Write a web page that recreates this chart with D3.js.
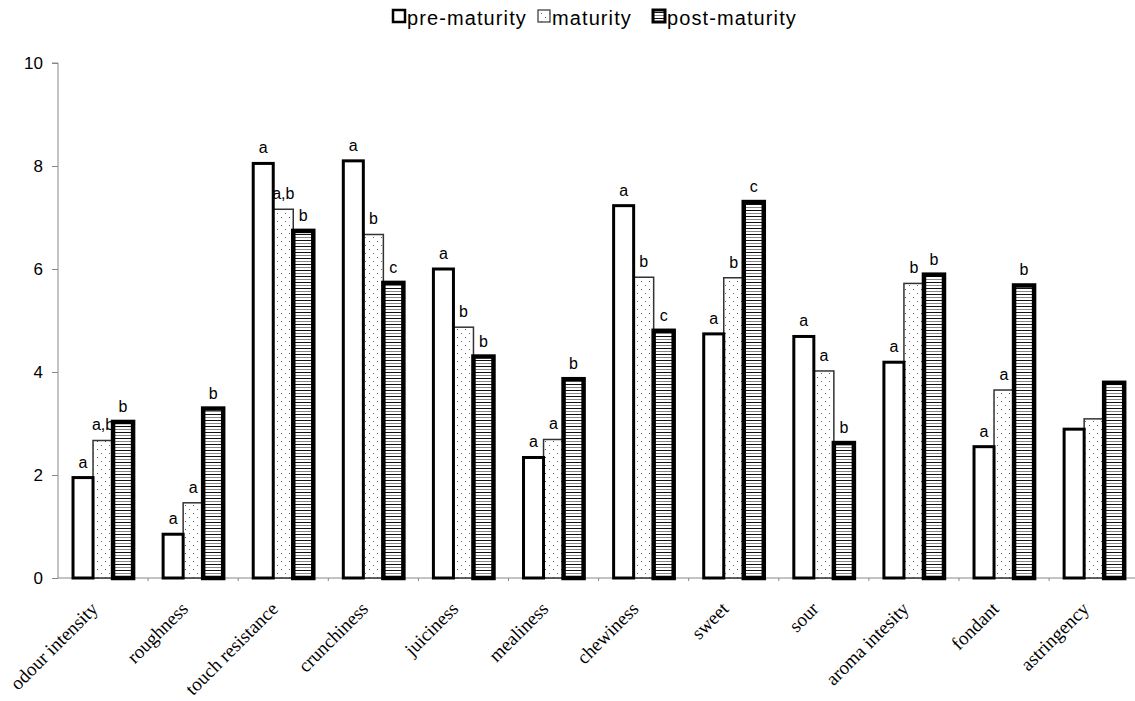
<!DOCTYPE html>
<html><head><meta charset="utf-8">
<script src="https://cdn.jsdelivr.net/npm/d3@7"></script>
<style>
html,body{margin:0;padding:0;background:#fff;}
svg{display:block;}
</style></head>
<body>
<svg id="chart" width="1135" height="701"></svg>
<script>
const categories = ["odour intensity","roughness","touch resistance","crunchiness","juiciness","mealiness","chewiness","sweet","sour","aroma intesity","fondant","astringency"];
const seriesNames = ["pre-maturity","maturity","post-maturity"];
const preMaturity  = [1.95, 0.85, 8.05, 8.10, 6.00, 2.34, 7.23, 4.74, 4.69, 4.19, 2.55, 2.89];
const maturity     = [2.67, 1.46, 7.16, 6.67, 4.87, 2.69, 5.84, 5.83, 4.02, 5.72, 3.65, 3.09];
const postMaturity = [3.03, 3.29, 6.74, 5.73, 4.30, 3.86, 4.80, 7.30, 2.62, 5.89, 5.68, 3.79];
const preLetters   = ["a","a","a","a","a","a","a","a","a","a","a",""];
const matLetters   = ["a,b","a","a,b","b","b","a","b","b","a","b","a",""];
const postLetters  = ["b","b","b","c","b","b","c","c","b","b","b",""];
const yTicks = [0,2,4,6,8,10];

const svg = d3.select("#chart");
const margin = {left:58, top:63, bottom:123};
const W = 1135, H = 701;
const plotBottom = H - margin.bottom;

const defs = svg.append("defs");
const dots = defs.append("pattern").attr("id","dots").attr("patternUnits","userSpaceOnUse")
  .attr("width",8).attr("height",8);
dots.append("rect").attr("width",8).attr("height",8).attr("fill","#fff");
dots.append("rect").attr("x",1).attr("y",1).attr("width",1).attr("height",1).attr("fill","#555");
dots.append("rect").attr("x",5).attr("y",5).attr("width",1).attr("height",1).attr("fill","#777");
const stripes = defs.append("pattern").attr("id","stripes").attr("patternUnits","userSpaceOnUse")
  .attr("width",8).attr("height",6);
stripes.append("rect").attr("width",8).attr("height",6).attr("fill","#fff");
stripes.append("rect").attr("y",0).attr("width",8).attr("height",1).attr("fill","#111");
stripes.append("rect").attr("y",3).attr("width",8).attr("height",1).attr("fill","#888");

const styles = [
  {fill:"#fff", stroke:"#000", sw:3},
  {fill:"url(#dots)", stroke:"#333", sw:1.5},
  {fill:"url(#stripes)", stroke:"#000", sw:4.5}
];

const x0 = d3.scaleBand().domain(categories).range([margin.left, margin.left + 90.1*12]).padding(0);
const x1 = d3.scaleBand().domain(seriesNames).range([0, x0.bandwidth()]).paddingInner(0).paddingOuter(0.75);
const y = d3.scaleLinear().domain([0,10]).range([plotBottom, margin.top]);

// Y axis
const yAxis = svg.append("g").attr("transform",`translate(${margin.left},0)`)
  .call(d3.axisLeft(y).tickValues(yTicks).tickSize(6).tickPadding(9));
yAxis.select(".domain").attr("stroke","#888").attr("d",`M-6,${y(10)}H0V${y(0)}`);
yAxis.selectAll(".tick line").attr("stroke","#888");
yAxis.selectAll(".tick text").attr("font-family","Liberation Sans, Arial, sans-serif").attr("font-size",17).attr("fill","#000");

// X axis
const xAxisG = svg.append("g").attr("transform",`translate(0,${plotBottom})`);
xAxisG.append("line").attr("x1",margin.left).attr("x2",x0.range()[1]).attr("stroke","#888").attr("stroke-width",1);
xAxisG.selectAll("line.tk").data(categories).enter().append("line").attr("class","tk")
  .attr("x1",d=>x0(d)+x0.bandwidth()).attr("x2",d=>x0(d)+x0.bandwidth())
  .attr("y1",0).attr("y2",3).attr("stroke","#888");
xAxisG.selectAll("text.cat").data(categories).enter().append("text").attr("class","cat")
  .attr("transform",d=>`translate(${x0(d)+x0.bandwidth()/2-4},32) rotate(-45)`)
  .attr("text-anchor","end")
  .attr("font-family","Liberation Serif, Times New Roman, serif").attr("font-size",19)
  .attr("fill","#000").text(d=>d);

// Bars
const seriesData = [preMaturity, maturity, postMaturity];
const letterData = [preLetters, matLetters, postLetters];
[1,0,2].forEach(si=>{
  const st = styles[si];
  svg.append("g").selectAll("rect").data(categories).enter().append("rect")
    .attr("x",d=>x0(d)+x1(seriesNames[si]))
    .attr("y",(d,i)=>y(seriesData[si][i]))
    .attr("width",x1.bandwidth())
    .attr("height",(d,i)=>y(0)-y(seriesData[si][i]))
    .attr("fill",st.fill).attr("stroke",st.stroke).attr("stroke-width",st.sw);
});
// Letters
[0,1,2].forEach(si=>{
  svg.append("g").selectAll("text").data(categories).enter().append("text")
    .attr("x",d=>x0(d)+x1(seriesNames[si])+x1.bandwidth()/2)
    .attr("y",(d,i)=>y(seriesData[si][i])-10)
    .attr("text-anchor","middle")
    .attr("font-family","Liberation Sans, Arial, sans-serif").attr("font-size",16)
    .attr("fill","#000").text((d,i)=>letterData[si][i]);
});

// Legend
const legendX = [392, 537, 652];
const lg = svg.append("g");
seriesNames.forEach((n,i)=>{
  const st = styles[i];
  lg.append("rect").attr("x",legendX[i]+1).attr("y",10).attr("width",12).attr("height",12)
    .attr("fill",st.fill).attr("stroke",st.stroke).attr("stroke-width",i==1?1.2:(i==0?2.5:3));
  lg.append("text").attr("x",legendX[i]+15).attr("y",25)
    .attr("font-family","Liberation Sans, Arial, sans-serif").attr("font-size",20)
    .attr("letter-spacing",1.1).attr("fill","#000").text(n);
});
</script>
</body></html>
